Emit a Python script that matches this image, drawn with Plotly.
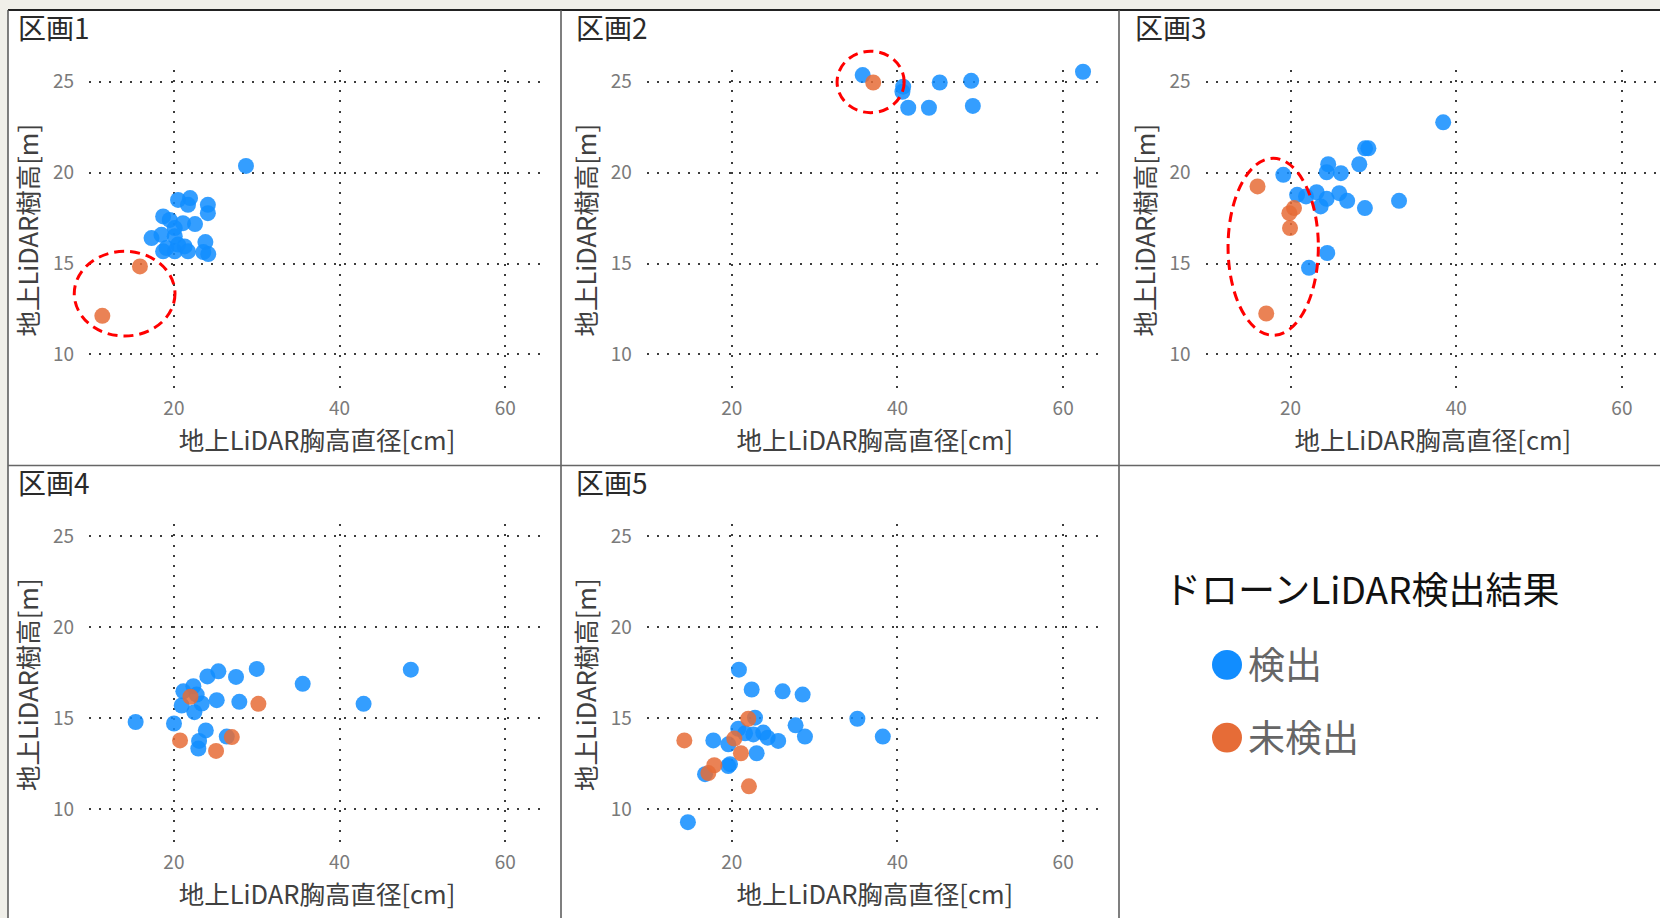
import plotly.graph_objects as go

# ---------------- data ----------------
PANEL_TITLES = ["区画1", "区画2", "区画3", "区画4", "区画5"]
X_TITLE = "地上LiDAR胸高直径[cm]"
Y_TITLE = "地上LiDAR樹高[m]"
LEGEND_TITLE = "ドローンLiDAR検出結果"
SERIES_NAMES = ["検出", "未検出"]
X_TICKS = [20, 40, 60]
Y_TICKS = [10, 15, 20, 25]

p1_det_x = [28.7, 20.5, 21.95, 21.7, 24.1, 24.1, 18.7, 19.5, 21.1, 22.55, 20.1, 17.3, 18.5, 20.1, 23.8, 19.1, 20.5, 21.3, 20.1, 21.7, 23.55, 24.15, 18.7]
p1_det_y = [20.37, 18.5, 18.6, 18.23, 18.23, 17.77, 17.59, 17.4, 17.22, 17.17, 16.95, 16.4, 16.58, 16.5, 16.18, 15.85, 16.04, 15.94, 15.67, 15.67, 15.63, 15.52, 15.67]
p1_und_x = [15.9, 11.36]
p1_und_y = [14.84, 12.12]

p2_det_x = [35.8, 40.69, 40.6, 41.3, 43.8, 45.1, 48.9, 49.1, 62.4]
p2_det_y = [25.37, 24.73, 24.45, 23.57, 23.57, 24.96, 25.05, 23.67, 25.55]
p2_und_x = [37.07]
p2_und_y = [24.96]

p3_det_x = [38.43, 29.0, 29.4, 24.55, 28.3, 24.36, 26.08, 19.13, 20.8, 21.87, 23.15, 24.36, 23.64, 25.88, 26.84, 28.98, 33.1, 24.43, 22.23]
p3_det_y = [22.77, 21.34, 21.34, 20.46, 20.46, 20.02, 19.97, 19.88, 18.78, 18.69, 18.92, 18.56, 18.14, 18.87, 18.45, 18.05, 18.45, 15.58, 14.76]
p3_und_x = [16.02, 20.42, 19.86, 19.94, 17.07]
p3_und_y = [19.24, 18.05, 17.77, 16.95, 12.25]

p4_det_x = [30.0, 25.37, 24.04, 27.5, 22.35, 21.14, 22.75, 23.36, 25.17, 27.9, 20.94, 22.47, 20.01, 15.38, 23.85, 23.04, 22.95, 26.38, 35.55, 42.9, 48.6]
p4_det_y = [17.7, 17.57, 17.29, 17.26, 16.75, 16.47, 16.29, 15.8, 15.98, 15.89, 15.69, 15.32, 14.7, 14.78, 14.32, 13.74, 13.32, 13.98, 16.88, 15.78, 17.66]
p4_und_x = [22.0, 30.2, 20.74, 26.99, 25.09]
p4_und_y = [16.17, 15.78, 13.77, 13.95, 13.19]

p5_det_x = [22.4, 26.14, 28.55, 22.8, 27.7, 28.83, 20.78, 21.6, 22.6, 23.8, 24.33, 25.6, 17.77, 19.58, 23.0, 19.78, 16.77, 20.86, 35.16, 38.23, 14.7, 19.57]
p5_det_y = [16.57, 16.47, 16.29, 15.02, 14.6, 13.98, 14.41, 14.16, 14.1, 14.2, 13.92, 13.74, 13.77, 13.55, 13.06, 12.46, 11.91, 17.66, 14.96, 13.98, 9.27, 12.36]
p5_und_x = [21.99, 20.3, 21.1, 17.89, 17.17, 22.07, 14.27]
p5_und_y = [14.96, 13.87, 13.06, 12.4, 11.97, 11.24, 13.77]

DET = [(p1_det_x, p1_det_y), (p2_det_x, p2_det_y), (p3_det_x, p3_det_y), (p4_det_x, p4_det_y), (p5_det_x, p5_det_y)]
UND = [(p1_und_x, p1_und_y), (p2_und_x, p2_und_y), (p3_und_x, p3_und_y), (p4_und_x, p4_und_y), (p5_und_x, p5_und_y)]

# highlight ellipses: (panel index, centre x, centre y, radius x, radius y) in data units
ELLIPSES = [(0, 14.05, 13.34, 6.08, 2.33), (1, 36.76, 24.99, 4.05, 1.69), (2, 17.91, 15.92, 5.45, 4.87)]

# ---------------- style / layout ----------------
W, H = 1660, 918
BLUE = "#118DFF"
ORANGE = "#E66C37"
FONT = "Noto Sans CJK JP"
BG = "#F0EFE9"
COL_OFF = [0, 557.9, 1116.6]
ROW_OFF = [0, 456]
PL, PR, PT, PB = 89, 545, 67, 389
X_RANGE = [9.75, 64.8]
X_RANGE_LAST = [9.75, 64.6]
Y_RANGE = [8.0, 25.66]


def px(x):
    return x / W


def py(y):
    return 1 - y / H


fig = go.Figure()
layout = dict(
    width=W, height=H, margin=dict(l=0, r=0, t=0, b=0),
    paper_bgcolor=BG, plot_bgcolor="rgba(0,0,0,0)",
    showlegend=False, hovermode=False,
    font=dict(family=FONT),
)
shapes = [
    dict(type="rect", xref="paper", yref="paper", x0=px(8), x1=1, y0=0, y1=py(7),
         fillcolor="white", line=dict(width=0), layer="below"),
]
annotations = []

axis_common = dict(
    showline=False, zeroline=False, showgrid=True,
    gridcolor="#3C3C3C", gridwidth=2, griddash="2px,8.2px",
    tickfont=dict(family=FONT, size=19, color="#7A7A7A"),
    ticks="", fixedrange=True,
)

for i in range(5):
    r, c = divmod(i, 3)
    ox, oy = COL_OFF[c], ROW_OFF[r]
    n = "" if i == 0 else str(i + 1)
    right = min(PR + ox, W)
    xr = X_RANGE_LAST if c == 2 else X_RANGE
    layout["xaxis" + n] = dict(
        axis_common, domain=[px(PL + ox), px(right)], range=xr,
        anchor="y" + n, tickvals=X_TICKS, ticklabelstandoff=4,
        title=dict(text=X_TITLE, font=dict(family=FONT, size=25.5, color="#404040"), standoff=4),
    )
    layout["yaxis" + n] = dict(
        axis_common, domain=[py(PB + oy), py(PT + oy)], range=Y_RANGE,
        anchor="x" + n, tickvals=Y_TICKS, ticklabelstandoff=14,
        title=dict(text=Y_TITLE, font=dict(family=FONT, size=25.5, color="#404040"), standoff=6),
    )
    (dx, dy), (ux, uy) = DET[i], UND[i]
    fig.add_trace(go.Scatter(x=dx, y=dy, mode="markers", name=SERIES_NAMES[0],
                             marker=dict(color=BLUE, size=16, opacity=0.85, line=dict(width=0)),
                             cliponaxis=False, xaxis="x" + n, yaxis="y" + n))
    fig.add_trace(go.Scatter(x=ux, y=uy, mode="markers", name=SERIES_NAMES[1],
                             marker=dict(color=ORANGE, size=16, opacity=0.85, line=dict(width=0)),
                             cliponaxis=False, xaxis="x" + n, yaxis="y" + n))
    annotations.append(dict(text=PANEL_TITLES[i], xref="paper", yref="paper",
                            x=px(16 + ox), y=py(2 + oy), xanchor="left", yanchor="top",
                            showarrow=False, font=dict(family=FONT, size=28, color="#2A2A2A")))

# red dashed ellipses (domain referenced so they are not clipped by the plot area)
for (i, cx, cy, rx, ry) in ELLIPSES:
    n = "" if i == 0 else str(i + 1)
    xr = X_RANGE_LAST if i % 3 == 2 else X_RANGE
    fx = lambda v: (v - xr[0]) / (xr[1] - xr[0])
    fy = lambda v: (v - Y_RANGE[0]) / (Y_RANGE[1] - Y_RANGE[0])
    shapes.append(dict(type="circle", xref="x" + n + " domain", yref="y" + n + " domain",
                       x0=fx(cx - rx), x1=fx(cx + rx), y0=fy(cy - ry), y1=fy(cy + ry),
                       line=dict(color="#FF0000", width=3, dash="10px,6px"), layer="above"))

# panel frame lines
shapes += [
    dict(type="line", xref="paper", yref="paper", x0=px(8), x1=1, y0=py(7), y1=py(7),
         line=dict(color="#222222", width=2)),
    dict(type="line", xref="paper", yref="paper", x0=px(8), x1=px(8), y0=0, y1=py(7),
         line=dict(color="#555555", width=1.5)),
    dict(type="line", xref="paper", yref="paper", x0=px(561), x1=px(561), y0=0, y1=py(7),
         line=dict(color="#555555", width=1.5)),
    dict(type="line", xref="paper", yref="paper", x0=px(1119), x1=px(1119), y0=0, y1=py(7),
         line=dict(color="#555555", width=1.5)),
    dict(type="line", xref="paper", yref="paper", x0=px(8), x1=1, y0=py(464), y1=py(464),
         line=dict(color="#666666", width=1.5)),
]

# legend panel (drawn manually to match large legend symbols)
annotations.append(dict(text=LEGEND_TITLE, xref="paper", yref="paper", x=px(1162), y=py(587),
                        xanchor="left", yanchor="middle", showarrow=False,
                        font=dict(family=FONT, size=37, color="#111111")))
for k, (name, col) in enumerate(zip(SERIES_NAMES, [BLUE, ORANGE])):
    cyp = 664 + 73 * k
    shapes.append(dict(type="circle", xref="paper", yref="paper",
                       x0=px(1212), x1=px(1242), y0=py(cyp + 15), y1=py(cyp - 15),
                       fillcolor=col, line=dict(width=0)))
    annotations.append(dict(text=name, xref="paper", yref="paper", x=px(1246), y=py(cyp - 2),
                            xanchor="left", yanchor="middle", showarrow=False,
                            font=dict(family=FONT, size=37, color="#666666")))

layout["shapes"] = shapes
layout["annotations"] = annotations
fig.update_layout(**layout)
fig.write_html(
    "out.html",
    config={"displayModeBar": False},
    post_script="document.body.style.margin='0px';document.body.style.overflow='hidden';"
                "document.body.style.background='" + BG + "';",
)
